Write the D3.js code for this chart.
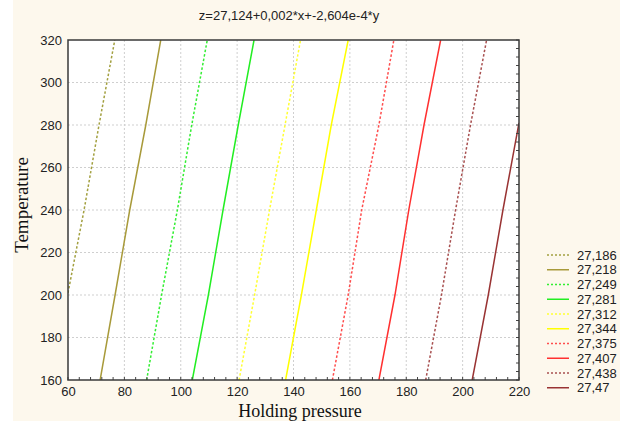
<!DOCTYPE html>
<html><head><meta charset="utf-8">
<script src="https://cdn.jsdelivr.net/npm/d3@7"></script>
<style>html,body{margin:0;padding:0;background:#fff;}svg{display:block;}</style>
</head><body>
<script>
// ---- data ----
const titleText = "z=27,124+0,002*x+-2,604e-4*y";
const levels = ["27,186","27,218","27,249","27,281","27,312","27,344","27,375","27,407","27,438","27,47"];
const colors = ["#a3a040","#a89a3a","#33ee33","#22ee22","#ffff33","#ffff00","#ff4d4d","#ff3030","#a85050","#993333"];
const dashed = [true,false,true,false,true,false,true,false,true,false];
const temps = [160,200,240,280,320];
const pressures = [
  [60, 65.7, 71.0, 76.6],
  [71.4, 76.7, 81.9, 87.6, 92.9],
  [87.9, 93.2, 98.8, 103.9, 109.4],
  [104.1, 109.8, 115.0, 120.4, 126.0],
  [120.7, 126.2, 131.5, 137.0, 142.5],
  [137.2, 142.8, 148.1, 153.4, 159.4],
  [153.8, 159.4, 164.2, 170.3, 175.6],
  [170.3, 176.0, 180.9, 186.3, 192.2],
  [186.9, 192.5, 197.5, 202.8, 208.5],
  [203.4, 209.1, 214.3, 220]
];
const temperatures = [
  [201, 240, 280, 320],
  temps, temps, temps, temps, temps, temps, temps, temps,
  [160, 200, 240, 281]
];
const xTicks = [60,80,100,120,140,160,180,200,220];
const yTicks = [160,180,200,220,240,260,280,300,320];

// ---- drawing ----
const W = 620, H = 421;
const svg = d3.select("body").append("svg").attr("width", W).attr("height", H);
svg.append("rect").attr("x", 13).attr("y", 0).attr("width", W - 13).attr("height", H).attr("fill", "#fdf8ed");

const L = 68, R = 519, T = 40, B = 380;
const x = d3.scaleLinear().domain([60, 220]).range([L, R]);
const y = d3.scaleLinear().domain([160, 320]).range([B, T]);

svg.append("rect").attr("x", L).attr("y", T).attr("width", R - L).attr("height", B - T).attr("fill", "#fff");

// grid
const grid = svg.append("g").attr("stroke", "#cfcfcf").attr("stroke-width", 1).attr("stroke-dasharray", "2,2");
xTicks.slice(1, -1).forEach(v => grid.append("line").attr("x1", x(v)).attr("x2", x(v)).attr("y1", T).attr("y2", B));
yTicks.slice(1, -1).forEach(v => grid.append("line").attr("y1", y(v)).attr("y2", y(v)).attr("x1", L).attr("x2", R));

// contour lines
svg.append("clipPath").attr("id", "pc").append("rect").attr("x", L).attr("y", T).attr("width", R - L).attr("height", B - T);
const lineGen = d3.line().x(d => x(d[0])).y(d => y(d[1]));
const lg = svg.append("g").attr("clip-path", "url(#pc)");
levels.forEach((lv, i) => {
  const pts = pressures[i].map((p, j) => [p, temperatures[i][j]]);
  lg.append("path").attr("d", lineGen(pts)).attr("fill", "none")
    .attr("stroke", colors[i]).attr("stroke-width", 1.5)
    .attr("stroke-dasharray", dashed[i] ? "2.5,2" : null);
});

// axes
const font = "'Liberation Sans', Arial, sans-serif";
const xAxis = d3.axisBottom(x).tickValues(xTicks).tickSize(0).tickPadding(7);
const gx = svg.append("g").attr("transform", `translate(0,${B})`).call(xAxis);
gx.select(".domain").remove();
gx.selectAll("text").attr("font-family", font).attr("font-size", 13).attr("fill", "#222");
const yAxis = d3.axisLeft(y).tickValues(yTicks).tickSize(0).tickPadding(6);
const gy = svg.append("g").attr("transform", `translate(${L},0)`).call(yAxis);
gy.select(".domain").remove();
gy.selectAll("text").attr("font-family", font).attr("font-size", 13).attr("fill", "#222");

// minor ticks (inward) bottom and right
const minorX = d3.range(60, 221, 4);
const minorY = d3.range(160, 321, 4);
const tk = svg.append("g").attr("stroke", "#444").attr("stroke-width", 1);
minorX.forEach(v => tk.append("line").attr("x1", x(v)).attr("x2", x(v)).attr("y1", B).attr("y2", B - 3));
minorY.forEach(v => tk.append("line").attr("y1", y(v)).attr("y2", y(v)).attr("x1", R).attr("x2", R - 3));

// frame
svg.append("rect").attr("x", L).attr("y", T).attr("width", R - L).attr("height", B - T)
  .attr("fill", "none").attr("stroke", "#3a3a3a").attr("stroke-width", 1.5);

// title
svg.append("text").attr("x", 289).attr("y", 20).attr("text-anchor", "middle")
  .attr("font-family", font).attr("font-size", 13).attr("fill", "#222").text(titleText);

// axis titles
svg.append("text").attr("x", 300).attr("y", 417).attr("text-anchor", "middle")
  .attr("font-family", "'Liberation Serif', 'Times New Roman', serif").attr("font-size", 18).attr("fill", "#111").text("Holding pressure");
svg.append("text").attr("transform", "translate(28,205) rotate(-90)").attr("text-anchor", "middle")
  .attr("font-family", "'Liberation Serif', 'Times New Roman', serif").attr("font-size", 19).attr("fill", "#111").text("Temperature");

// legend
const leg = svg.append("g");
levels.forEach((lv, i) => {
  const yy = 255 + i * 14.75;
  leg.append("line").attr("x1", 547).attr("x2", 569).attr("y1", yy).attr("y2", yy)
    .attr("stroke", colors[i]).attr("stroke-width", 1.5).attr("stroke-dasharray", dashed[i] ? "2,2" : null);
  leg.append("text").attr("x", 577).attr("y", yy + 4.5).attr("font-family", font).attr("font-size", 13)
    .attr("fill", "#222").text(lv);
});
</script>
</body></html>
